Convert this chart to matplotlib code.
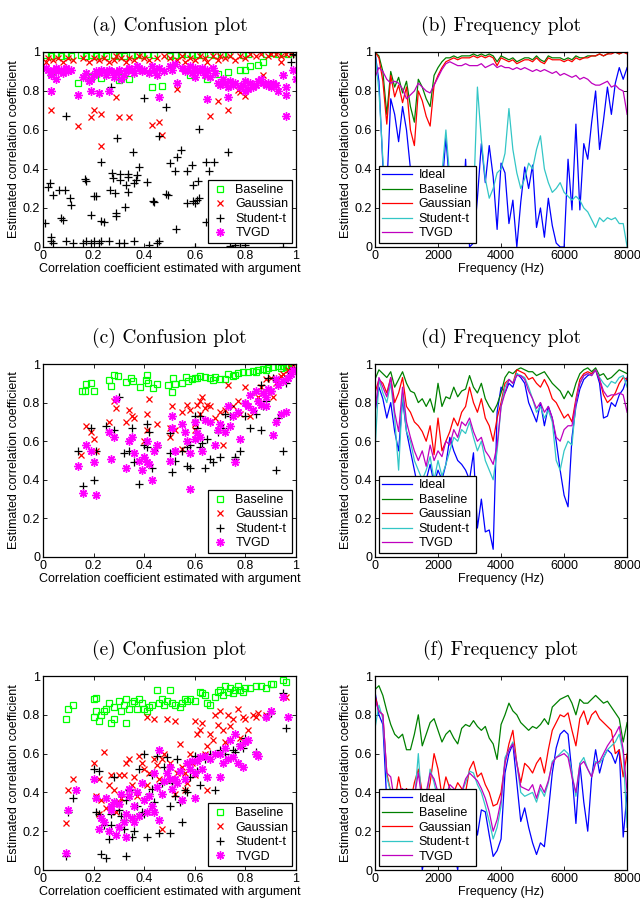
import matplotlib
matplotlib.use("Agg")
import matplotlib.pyplot as plt
import numpy as np

plt.rcParams['font.family'] = ['Liberation Sans', 'DejaVu Sans']

# Dados - confusion plots (argument estimate, estimated coefficient)
series_names = ["Baseline", "Gaussian", "Student-t", "TVGD"]
line_names = ["Ideal", "Baseline", "Gaussian", "Student-t", "TVGD"]

a_baseline = [(0.01,0.985),(0.03,0.98),(0.05,0.985),(0.07,0.98),(0.09,0.985),(0.11,0.98),(0.15,0.985),(0.17,0.98),
              (0.19,0.985),(0.21,0.98),(0.23,0.985),(0.25,0.98),(0.28,0.985),(0.30,0.98),(0.32,0.98),(0.35,0.985),
              (0.37,0.99),(0.39,0.985),(0.41,0.99),(0.44,0.985),(0.50,0.98),(0.52,0.985),(0.55,0.99),(0.57,0.99),
              (0.59,0.985),(0.61,0.99),(0.63,0.985),(0.66,0.99),(0.68,0.985),(0.71,0.99),(0.73,0.99),(0.79,0.985),
              (0.81,0.99),(0.88,0.99),(0.91,0.995),(0.93,0.99),(0.95,0.995),(0.97,0.99),(0.99,1.0),(0.03,0.89),
              (0.14,0.84),(0.19,0.87),(0.23,0.867),(0.30,0.858),(0.34,0.86),(0.43,0.82),(0.47,0.824),(0.65,0.86),
              (0.69,0.887),(0.73,0.897),(0.78,0.91),(0.80,0.91),(0.82,0.927),(0.85,0.935),(0.87,0.95),(0.31,0.87),
              (0.58,0.88)]
a_gaussian = [(0.01,0.95),(0.02,0.97),(0.04,0.96),(0.06,0.97),(0.08,0.95),(0.10,0.97),(0.12,0.96),(0.16,0.97),
              (0.18,0.95),(0.20,0.97),(0.22,0.96),(0.24,0.97),(0.26,0.95),(0.28,0.96),(0.29,0.98),(0.31,0.97),
              (0.33,0.95),(0.34,0.97),(0.36,0.96),(0.38,0.98),(0.40,0.97),(0.42,0.96),(0.45,0.97),(0.48,0.98),
              (0.50,0.97),(0.53,0.96),(0.55,0.98),(0.56,0.95),(0.58,0.97),(0.60,0.96),(0.62,0.98),(0.64,0.97),
              (0.65,0.95),(0.67,0.98),(0.69,0.96),(0.70,0.98),(0.72,0.97),(0.74,0.98),(0.76,0.96),(0.78,0.98),
              (0.80,0.97),(0.82,0.99),(0.84,0.98),(0.86,0.99),(0.89,0.98),(0.90,0.99),(0.92,0.99),(0.94,0.98),
              (0.96,0.99),(0.98,0.99),(0.03,0.70),(0.03,0.80),(0.14,0.62),(0.19,0.665),(0.20,0.70),(0.23,0.68),
              (0.23,0.516),(0.29,0.77),(0.30,0.665),(0.34,0.668),(0.43,0.627),(0.46,0.64),(0.47,0.573),(0.53,0.81),
              (0.66,0.67),(0.69,0.75),(0.73,0.705),(0.77,0.807),(0.80,0.773),(0.87,0.88),(0.94,0.947),(0.78,0.795)]
a_student = [(0.09,0.67),(0.27,0.82),(0.40,0.764),(0.486,0.716),(0.294,0.559),(0.354,0.487),(0.545,0.496),
             (0.528,0.46),(0.618,0.607),(0.733,0.487),(0.228,0.434),(0.166,0.349),(0.17,0.337),(0.273,0.38),
             (0.275,0.354),(0.304,0.374),(0.334,0.374),(0.334,0.357),(0.304,0.342),(0.38,0.409),(0.37,0.371),
             (0.41,0.332),(0.50,0.431),(0.522,0.388),(0.568,0.388),(0.59,0.422),(0.644,0.436),(0.676,0.436),
             (0.657,0.388),(0.592,0.32),(0.614,0.34),(0.028,0.328),(0.038,0.268),(0.02,0.31),(0.064,0.29),
             (0.087,0.29),(0.107,0.25),(0.11,0.213),(0.20,0.26),(0.21,0.26),(0.265,0.29),(0.285,0.277),
             (0.328,0.316),(0.334,0.282),(0.368,0.345),(0.36,0.328),(0.436,0.234),(0.44,0.229),(0.486,0.272),
             (0.495,0.268),(0.568,0.226),(0.594,0.234),(0.60,0.226),(0.618,0.251),(0.61,0.243),(0.324,0.203),
             (0.288,0.174),(0.19,0.166),(0.23,0.132),(0.24,0.126),(0.071,0.149),(0.08,0.14),(0.008,0.125),
             (0.29,0.157),(0.526,0.094),(0.644,0.128),(0.46,0.57),(0.03,0.05),(0.03,0.03),(0.04,0.02),
             (0.09,0.03),(0.12,0.02),(0.16,0.02),(0.17,0.03),(0.19,0.02),(0.20,0.03),(0.22,0.02),(0.23,0.03),
             (0.26,0.03),(0.30,0.02),(0.32,0.02),(0.36,0.03),(0.42,0.01),(0.45,0.02),(0.46,0.03),(0.60,0.0),
             (0.74,0.005),(0.76,0.01),(0.78,0.0),(0.80,0.01),(0.95,0.0),(0.98,0.95),(0.99,0.99),(1.0,0.985)]
a_tvgd = [(0.01,0.92),(0.02,0.91),(0.03,0.88),(0.04,0.90),(0.05,0.92),(0.06,0.90),(0.07,0.91),(0.08,0.89),
          (0.09,0.92),(0.10,0.90),(0.11,0.91),(0.03,0.80),(0.05,0.86),(0.14,0.78),(0.16,0.87),(0.17,0.89),
          (0.18,0.85),(0.19,0.86),(0.20,0.88),(0.21,0.90),(0.22,0.89),(0.23,0.91),(0.24,0.90),(0.25,0.88),
          (0.26,0.91),(0.27,0.90),(0.28,0.87),(0.29,0.89),(0.30,0.91),(0.31,0.86),(0.32,0.88),(0.33,0.90),
          (0.34,0.92),(0.35,0.91),(0.36,0.89),(0.37,0.93),(0.38,0.92),(0.39,0.90),(0.40,0.91),(0.42,0.89),
          (0.43,0.93),(0.44,0.91),(0.45,0.88),(0.46,0.92),(0.48,0.90),(0.50,0.93),(0.51,0.91),(0.52,0.94),
          (0.53,0.84),(0.55,0.92),(0.56,0.90),(0.57,0.91),(0.58,0.93),(0.59,0.89),(0.60,0.92),(0.61,0.91),
          (0.62,0.90),(0.63,0.92),(0.64,0.88),(0.65,0.91),(0.66,0.87),(0.67,0.92),(0.68,0.89),(0.69,0.84),
          (0.70,0.83),(0.71,0.86),(0.72,0.84),(0.73,0.82),(0.74,0.85),(0.75,0.83),(0.76,0.84),(0.78,0.82),
          (0.79,0.83),(0.80,0.85),(0.81,0.81),(0.82,0.84),(0.83,0.82),(0.84,0.83),(0.85,0.85),(0.86,0.86),
          (0.87,0.84),(0.88,0.83),(0.89,0.84),(0.90,0.82),(0.91,0.84),(0.92,0.83),(0.93,0.80),(0.95,0.88),
          (0.96,0.82),(0.99,0.91),(1.0,0.86),(0.19,0.80),(0.22,0.79),(0.46,0.77),(0.65,0.76),(0.73,0.77),
          (0.96,0.67),(0.96,0.78),(0.26,0.80),(0.60,0.87),(0.80,0.80)]

c_baseline = [(0.153,0.86),(0.165,0.86),(0.17,0.896),(0.19,0.90),(0.20,0.862),(0.26,0.917),(0.27,0.886),
              (0.28,0.943),(0.298,0.938),(0.33,0.908),(0.346,0.926),(0.357,0.914),(0.383,0.883),(0.41,0.945),
              (0.407,0.917),(0.416,0.90),(0.433,0.874),(0.45,0.896),(0.495,0.891),(0.508,0.857),(0.512,0.926),
              (0.521,0.896),(0.548,0.90),(0.564,0.931),(0.574,0.914),(0.59,0.92),(0.60,0.93),(0.62,0.94),
              (0.64,0.935),(0.66,0.93),(0.68,0.935),(0.70,0.92),(0.72,0.92),(0.73,0.95),(0.75,0.94),(0.77,0.955),
              (0.79,0.96),(0.81,0.96),(0.83,0.965),(0.85,0.97),(0.87,0.975),(0.89,0.98),(0.91,0.985),(0.93,0.99),
              (0.95,0.99),(0.97,0.995),(0.99,1.0),(0.98,0.99),(0.96,0.985),(0.94,0.98),(0.61,0.925),(0.67,0.915),
              (0.76,0.945),(0.84,0.96),(0.88,0.97)]
c_gaussian = [(0.15,0.53),(0.17,0.68),(0.19,0.65),(0.20,0.61),(0.21,0.55),(0.26,0.70),(0.28,0.81),(0.29,0.77),
              (0.33,0.70),(0.34,0.76),(0.35,0.73),(0.36,0.72),(0.40,0.60),(0.41,0.74),(0.42,0.82),(0.45,0.69),
              (0.41,0.66),(0.50,0.62),(0.51,0.78),(0.50,0.67),(0.52,0.66),(0.55,0.56),(0.57,0.79),(0.58,0.76),
              (0.60,0.66),(0.61,0.79),(0.62,0.81),(0.63,0.83),(0.64,0.77),(0.65,0.79),(0.66,0.78),(0.62,0.74),
              (0.68,0.72),(0.70,0.75),(0.72,0.76),(0.73,0.89),(0.75,0.78),(0.77,0.81),(0.78,0.74),(0.80,0.88),
              (0.82,0.73),(0.84,0.86),(0.86,0.88),(0.88,0.92),(0.90,0.93),(0.92,0.90),(0.94,0.94),(0.95,0.95),
              (0.97,0.97),(0.98,0.98),(0.99,0.99),(0.60,0.69),(0.55,0.75),(0.71,0.58),(0.91,0.83),(0.85,0.83)]
c_student = [(0.14,0.55),(0.16,0.37),(0.19,0.67),(0.20,0.40),(0.21,0.55),(0.25,0.68),(0.28,0.66),(0.30,0.83),
             (0.32,0.54),(0.34,0.55),(0.35,0.67),(0.36,0.49),(0.38,0.38),(0.40,0.58),(0.41,0.69),(0.42,0.65),
             (0.43,0.46),(0.41,0.57),(0.45,0.57),(0.50,0.54),(0.50,0.64),(0.51,0.44),(0.52,0.50),(0.55,0.55),
             (0.57,0.57),(0.58,0.46),(0.60,0.73),(0.62,0.73),(0.63,0.59),(0.64,0.46),(0.65,0.61),(0.67,0.49),
             (0.69,0.65),(0.70,0.52),(0.71,0.67),(0.72,0.74),(0.74,0.73),(0.76,0.52),(0.76,0.51),(0.78,0.55),
             (0.80,0.73),(0.82,0.67),(0.84,0.74),(0.86,0.66),(0.87,0.78),(0.88,0.81),(0.90,0.86),(0.92,0.45),
             (0.93,0.72),(0.95,0.55),(0.96,0.90),(0.97,0.94),(0.98,0.96),(0.99,0.98),(0.80,0.80),(0.86,0.89),
             (0.89,0.93),(0.91,0.93),(0.57,0.47),(0.61,0.67),(0.58,0.58),(0.66,0.51),(0.74,0.78),(0.62,0.57)]
c_tvgd = [(0.14,0.47),(0.16,0.33),(0.17,0.58),(0.19,0.55),(0.20,0.49),(0.21,0.32),(0.26,0.65),(0.27,0.51),
          (0.28,0.62),(0.29,0.82),(0.33,0.46),(0.34,0.60),(0.35,0.62),(0.36,0.54),(0.38,0.50),(0.39,0.45),
          (0.40,0.52),(0.41,0.49),(0.42,0.48),(0.43,0.40),(0.44,0.55),(0.41,0.60),(0.50,0.50),(0.51,0.67),
          (0.51,0.73),(0.52,0.55),(0.55,0.69),(0.56,0.65),(0.57,0.60),(0.58,0.35),(0.60,0.70),(0.61,0.64),
          (0.62,0.62),(0.63,0.55),(0.64,0.71),(0.66,0.70),(0.68,0.58),(0.69,0.66),(0.70,0.69),(0.72,0.65),
          (0.73,0.78),(0.74,0.68),(0.75,0.73),(0.76,0.49),(0.77,0.75),(0.78,0.61),(0.80,0.80),(0.81,0.78),
          (0.83,0.76),(0.85,0.81),(0.86,0.79),(0.87,0.85),(0.88,0.83),(0.89,0.87),(0.90,0.86),(0.91,0.63),
          (0.92,0.70),(0.93,0.89),(0.94,0.74),(0.95,0.91),(0.96,0.75),(0.97,0.93),(0.98,0.95),(0.99,0.97),
          (0.88,0.78),(0.92,0.92),(0.82,0.84),(0.84,0.86),(0.60,0.61),(0.52,0.55),(0.58,0.54),(0.45,0.58)]

e_baseline = [(0.09,0.78),(0.10,0.83),(0.12,0.85),(0.20,0.88),(0.21,0.885),(0.20,0.79),(0.21,0.82),(0.22,0.77),
              (0.23,0.80),(0.24,0.82),(0.25,0.83),(0.26,0.86),(0.27,0.76),(0.28,0.84),(0.30,0.87),(0.31,0.82),
              (0.32,0.85),(0.33,0.88),(0.34,0.83),(0.35,0.86),(0.36,0.87),(0.37,0.83),(0.38,0.88),(0.39,0.86),
              (0.40,0.83),(0.42,0.84),(0.43,0.85),(0.45,0.93),(0.46,0.86),(0.47,0.88),(0.49,0.87),(0.50,0.93),
              (0.51,0.86),(0.52,0.85),(0.54,0.84),(0.55,0.86),(0.56,0.88),(0.58,0.88),(0.60,0.87),(0.62,0.92),
              (0.63,0.91),(0.64,0.90),(0.65,0.86),(0.66,0.85),(0.68,0.89),(0.69,0.92),(0.70,0.93),(0.71,0.90),
              (0.72,0.95),(0.73,0.92),(0.74,0.94),(0.75,0.91),(0.76,0.93),(0.77,0.95),(0.78,0.93),(0.79,0.92),
              (0.80,0.94),(0.82,0.94),(0.84,0.95),(0.86,0.95),(0.88,0.94),(0.90,0.96),(0.91,0.96),(0.95,0.98),
              (0.96,0.97),(0.28,0.78),(0.33,0.76),(0.41,0.82),(0.48,0.85),(0.57,0.87)]
e_gaussian = [(0.09,0.24),(0.10,0.41),(0.12,0.47),(0.20,0.55),(0.21,0.38),(0.22,0.47),(0.23,0.36),(0.24,0.61),
              (0.22,0.29),(0.25,0.32),(0.26,0.44),(0.27,0.49),(0.28,0.41),(0.29,0.30),(0.30,0.49),(0.31,0.37),
              (0.32,0.49),(0.33,0.55),(0.34,0.57),(0.35,0.44),(0.36,0.48),(0.37,0.38),(0.38,0.59),(0.39,0.55),
              (0.40,0.52),(0.41,0.44),(0.42,0.50),(0.43,0.33),(0.44,0.57),(0.45,0.54),(0.46,0.47),(0.47,0.57),
              (0.48,0.60),(0.49,0.78),(0.50,0.55),(0.51,0.47),(0.52,0.77),(0.53,0.50),(0.54,0.65),(0.55,0.53),
              (0.56,0.50),(0.57,0.45),(0.58,0.60),(0.59,0.55),(0.60,0.77),(0.61,0.70),(0.62,0.72),(0.63,0.76),
              (0.64,0.60),(0.65,0.64),(0.66,0.70),(0.67,0.67),(0.68,0.80),(0.69,0.75),(0.70,0.82),(0.71,0.72),
              (0.72,0.66),(0.73,0.80),(0.74,0.74),(0.75,0.78),(0.76,0.70),(0.77,0.83),(0.78,0.68),(0.79,0.79),
              (0.80,0.78),(0.81,0.72),(0.83,0.80),(0.84,0.79),(0.85,0.81),(0.88,0.80),(0.90,0.82),(0.95,0.89),
              (0.96,0.89),(0.44,0.78),(0.41,0.79),(0.30,0.35),(0.35,0.27),(0.47,0.21),(0.56,0.41),(0.60,0.49),
              (0.65,0.41),(0.52,0.39)]
e_student = [(0.09,0.07),(0.10,0.30),(0.12,0.37),(0.20,0.52),(0.21,0.30),(0.22,0.51),(0.23,0.08),(0.25,0.06),
             (0.22,0.29),(0.24,0.23),(0.26,0.16),(0.27,0.29),(0.28,0.48),(0.29,0.35),(0.30,0.22),(0.31,0.28),
             (0.32,0.21),(0.33,0.07),(0.34,0.41),(0.35,0.17),(0.36,0.20),(0.37,0.33),(0.38,0.52),(0.39,0.30),
             (0.40,0.60),(0.41,0.17),(0.42,0.39),(0.43,0.42),(0.44,0.35),(0.45,0.59),(0.46,0.19),(0.47,0.45),
             (0.48,0.53),(0.49,0.58),(0.50,0.19),(0.51,0.45),(0.52,0.38),(0.54,0.35),(0.55,0.25),(0.56,0.41),
             (0.57,0.40),(0.58,0.48),(0.60,0.59),(0.61,0.51),(0.62,0.44),(0.64,0.57),(0.66,0.60),(0.68,0.41),
             (0.70,0.62),(0.72,0.60),(0.75,0.62),(0.76,0.61),(0.78,0.65),(0.79,0.63),(0.80,0.68),(0.84,0.61),
             (0.88,0.79),(0.90,0.81),(0.96,0.73),(0.95,0.91),(0.30,0.31),(0.33,0.36),(0.36,0.27),(0.43,0.49),
             (0.50,0.33),(0.53,0.57),(0.40,0.29),(0.27,0.23),(0.32,0.26)]
e_tvgd = [(0.09,0.09),(0.10,0.31),(0.13,0.41),(0.20,0.47),(0.21,0.37),(0.22,0.21),(0.23,0.27),(0.24,0.25),
          (0.25,0.37),(0.26,0.20),(0.27,0.31),(0.28,0.35),(0.29,0.18),(0.30,0.34),(0.31,0.39),(0.32,0.25),
          (0.33,0.29),(0.34,0.42),(0.35,0.27),(0.36,0.33),(0.37,0.40),(0.38,0.28),(0.39,0.45),(0.40,0.36),
          (0.41,0.30),(0.42,0.38),(0.43,0.33),(0.44,0.50),(0.45,0.43),(0.46,0.62),(0.47,0.39),(0.48,0.46),
          (0.49,0.50),(0.50,0.53),(0.51,0.42),(0.52,0.47),(0.53,0.45),(0.54,0.51),(0.55,0.36),(0.56,0.47),
          (0.57,0.55),(0.58,0.52),(0.59,0.56),(0.60,0.50),(0.61,0.56),(0.62,0.58),(0.63,0.52),(0.64,0.59),
          (0.66,0.57),(0.68,0.60),(0.70,0.60),(0.71,0.55),(0.72,0.63),(0.73,0.57),(0.74,0.67),(0.75,0.58),
          (0.76,0.70),(0.77,0.55),(0.78,0.64),(0.79,0.53),(0.80,0.66),(0.81,0.67),(0.84,0.60),(0.85,0.59),
          (0.88,0.79),(0.90,0.82),(0.95,0.89),(0.97,0.79),(0.33,0.17),(0.30,0.22),(0.36,0.25),(0.46,0.26),
          (0.60,0.37),(0.70,0.48),(0.65,0.48),(0.50,0.47),(0.44,0.30),(0.34,0.38),(0.27,0.33)]

# Frequency plots: one value every 125 Hz from 0 to 8000 Hz
freq_hz = np.arange(0, 8001, 125)

b_ideal = [1.0,0.85,0.42,0.30,0.76,0.68,0.54,0.72,0.60,0.40,0.25,0.15,0.30,0.10,0.20,0.05,0.15,0.30,0.56,0.30,
           0.10,0.25,0.05,0.45,0.00,0.02,0.25,0.53,0.33,0.52,0.36,0.09,0.43,0.38,0.12,0.24,0.00,0.23,0.41,0.30,
           0.42,0.10,0.20,0.05,0.25,0.11,0.02,0.00,0.00,0.45,0.19,0.63,0.19,0.53,0.45,0.64,0.80,0.50,0.65,0.82,
           0.68,0.84,0.92,0.86,0.92]
b_baseline = [1.0,0.98,0.90,0.68,0.90,0.82,0.87,0.79,0.85,0.72,0.64,0.86,0.82,0.76,0.72,0.88,0.92,0.95,0.97,0.97,
              0.98,0.97,0.98,0.98,0.98,0.99,0.98,0.99,0.98,0.99,0.98,0.95,0.98,0.97,0.96,0.97,0.95,0.96,0.97,0.97,
              0.96,0.98,0.96,0.95,0.98,0.97,0.97,0.97,0.96,0.97,0.96,0.98,0.97,0.97,0.98,0.98,0.98,0.99,0.98,0.99,
              1.0,1.0,0.99,1.0,1.0]
b_gaussian = [1.0,0.97,0.85,0.63,0.88,0.77,0.83,0.74,0.82,0.60,0.52,0.80,0.75,0.67,0.62,0.83,0.88,0.92,0.95,0.96,
              0.97,0.96,0.97,0.97,0.97,0.98,0.97,0.98,0.97,0.98,0.97,0.93,0.97,0.96,0.95,0.96,0.94,0.95,0.96,0.96,
              0.95,0.97,0.95,0.94,0.97,0.96,0.96,0.96,0.95,0.96,0.95,0.97,0.96,0.97,0.97,0.98,0.98,0.99,0.98,0.99,
              0.99,1.0,0.99,1.0,0.99]
b_student = [1.0,0.80,0.45,0.10,0.02,0.05,0.02,0.08,0.05,0.12,0.08,0.15,0.10,0.20,0.15,0.25,0.30,0.38,0.60,0.35,
             0.30,0.25,0.30,0.24,0.25,0.23,0.82,0.55,0.35,0.25,0.30,0.38,0.40,0.48,0.71,0.50,0.38,0.30,0.35,0.43,
             0.40,0.50,0.57,0.40,0.33,0.28,0.30,0.33,0.28,0.26,0.24,0.26,0.24,0.20,0.18,0.14,0.10,0.15,0.13,0.15,
             0.14,0.15,0.12,0.12,0.0]
b_tvgd = [0.87,0.92,0.90,0.86,0.84,0.85,0.84,0.81,0.76,0.78,0.80,0.84,0.82,0.80,0.79,0.83,0.87,0.91,0.94,0.95,
          0.94,0.93,0.93,0.94,0.93,0.93,0.93,0.94,0.92,0.93,0.94,0.92,0.93,0.92,0.92,0.91,0.92,0.91,0.92,0.91,
          0.90,0.91,0.90,0.91,0.90,0.89,0.90,0.88,0.89,0.88,0.87,0.88,0.86,0.87,0.86,0.84,0.83,0.83,0.84,0.85,
          0.82,0.83,0.81,0.80,0.68]

d_ideal = [0.75,0.88,0.82,0.72,0.80,0.65,0.55,0.82,0.65,0.55,0.45,0.35,0.40,0.40,0.48,0.38,0.45,0.40,0.48,0.62,
           0.55,0.50,0.48,0.45,0.40,0.54,0.15,0.30,0.13,0.14,0.04,0.75,0.88,0.85,0.90,0.88,0.95,0.93,0.90,0.80,
           0.75,0.70,0.80,0.68,0.78,0.72,0.60,0.45,0.32,0.26,0.62,0.78,0.87,0.92,0.94,0.95,0.97,0.90,0.72,0.73,
           0.80,0.78,0.84,0.87,0.93]
d_baseline = [0.92,0.97,0.95,0.93,0.96,0.88,0.92,0.96,0.90,0.86,0.85,0.80,0.82,0.78,0.82,0.75,0.90,0.78,0.83,0.82,
              0.88,0.83,0.86,0.87,0.94,0.88,0.85,0.90,0.82,0.78,0.75,0.79,0.85,0.93,0.96,0.95,0.97,0.98,0.97,0.96,
              0.96,0.94,0.95,0.96,0.93,0.90,0.88,0.86,0.82,0.86,0.83,0.90,0.95,0.97,0.98,0.96,0.98,0.94,0.95,0.92,
              0.93,0.95,0.97,0.96,0.95]
d_gaussian = [0.85,0.92,0.90,0.85,0.93,0.80,0.85,0.93,0.78,0.75,0.70,0.68,0.65,0.60,0.68,0.53,0.72,0.55,0.60,0.65,
              0.72,0.68,0.75,0.78,0.88,0.80,0.75,0.82,0.72,0.68,0.60,0.72,0.80,0.90,0.92,0.90,0.97,0.96,0.95,0.92,
              0.93,0.90,0.88,0.92,0.88,0.82,0.80,0.76,0.72,0.74,0.70,0.82,0.92,0.95,0.96,0.95,0.97,0.92,0.84,0.80,
              0.82,0.85,0.90,0.93,0.92]
d_student = [0.55,0.92,0.85,0.80,0.90,0.72,0.45,0.85,0.65,0.60,0.50,0.45,0.40,0.45,0.52,0.40,0.50,0.42,0.48,0.55,
             0.62,0.60,0.66,0.64,0.70,0.62,0.55,0.60,0.50,0.45,0.40,0.55,0.78,0.88,0.92,0.90,0.95,0.94,0.93,0.88,
             0.82,0.75,0.78,0.72,0.76,0.70,0.50,0.45,0.55,0.60,0.58,0.80,0.90,0.94,0.95,0.94,0.97,0.93,0.90,0.88,
             0.91,0.90,0.93,0.94,0.88]
d_tvgd = [0.75,0.93,0.88,0.83,0.93,0.75,0.65,0.88,0.70,0.62,0.55,0.50,0.55,0.47,0.58,0.50,0.55,0.52,0.60,0.58,
          0.66,0.62,0.70,0.68,0.72,0.65,0.60,0.62,0.55,0.52,0.48,0.58,0.78,0.85,0.92,0.90,0.94,0.94,0.92,0.86,
          0.82,0.77,0.80,0.75,0.78,0.72,0.62,0.60,0.66,0.68,0.68,0.80,0.90,0.94,0.95,0.94,0.97,0.92,0.86,0.83,
          0.84,0.84,0.85,0.84,0.75]

f_ideal = [0.92,0.80,0.75,0.35,0.25,0.20,0.25,0.15,0.20,0.10,0.15,0.25,0.00,0.10,0.20,0.15,0.10,0.05,0.15,0.20,
           0.10,0.00,0.25,0.09,0.40,0.30,0.18,0.31,0.30,0.18,0.07,0.10,0.16,0.50,0.60,0.65,0.45,0.25,0.32,0.22,
           0.14,0.08,0.14,0.12,0.30,0.50,0.63,0.70,0.72,0.70,0.50,0.24,0.55,0.35,0.20,0.48,0.62,0.50,0.58,0.62,
           0.60,0.55,0.62,0.17,0.40]
f_baseline = [0.93,0.95,0.90,0.82,0.75,0.70,0.68,0.70,0.62,0.62,0.70,0.80,0.64,0.70,0.76,0.78,0.72,0.66,0.70,0.72,
              0.68,0.65,0.73,0.75,0.74,0.77,0.74,0.72,0.74,0.68,0.65,0.57,0.75,0.80,0.86,0.82,0.80,0.76,0.74,0.72,
              0.74,0.73,0.75,0.78,0.75,0.84,0.86,0.88,0.89,0.90,0.86,0.80,0.88,0.86,0.86,0.88,0.90,0.88,0.86,0.87,
              0.84,0.81,0.78,0.66,0.76]
f_gaussian = [0.90,0.82,0.80,0.50,0.40,0.35,0.48,0.38,0.42,0.35,0.45,0.52,0.40,0.35,0.45,0.60,0.52,0.38,0.48,0.42,
              0.40,0.45,0.42,0.40,0.52,0.56,0.48,0.50,0.44,0.40,0.33,0.34,0.40,0.55,0.65,0.72,0.55,0.45,0.55,0.53,
              0.50,0.55,0.58,0.50,0.62,0.72,0.76,0.80,0.79,0.81,0.72,0.64,0.78,0.82,0.75,0.80,0.82,0.78,0.76,0.74,
              0.72,0.60,0.62,0.48,0.60]
f_student = [0.73,0.85,0.78,0.48,0.40,0.30,0.35,0.40,0.35,0.30,0.35,0.60,0.30,0.35,0.52,0.45,0.36,0.30,0.35,0.42,
             0.40,0.36,0.40,0.45,0.51,0.50,0.44,0.40,0.33,0.25,0.16,0.22,0.33,0.58,0.62,0.66,0.55,0.40,0.38,0.39,
             0.40,0.35,0.42,0.38,0.45,0.56,0.58,0.60,0.62,0.60,0.50,0.38,0.55,0.58,0.52,0.48,0.56,0.55,0.58,0.62,
             0.64,0.66,0.70,0.60,0.22]
f_tvgd = [0.88,0.82,0.80,0.50,0.48,0.35,0.40,0.42,0.36,0.32,0.38,0.50,0.35,0.40,0.50,0.47,0.40,0.32,0.38,0.44,
          0.42,0.38,0.40,0.47,0.50,0.48,0.46,0.42,0.37,0.30,0.20,0.26,0.36,0.56,0.62,0.65,0.55,0.43,0.42,0.41,
          0.44,0.37,0.44,0.40,0.46,0.55,0.58,0.59,0.60,0.58,0.48,0.40,0.54,0.56,0.52,0.48,0.55,0.56,0.60,0.64,
          0.67,0.70,0.74,0.62,0.40]

confusion_data = [[a_baseline, a_gaussian, a_student, a_tvgd],
                  [c_baseline, c_gaussian, c_student, c_tvgd],
                  [e_baseline, e_gaussian, e_student, e_tvgd]]
freq_data = [[b_ideal, b_baseline, b_gaussian, b_student, b_tvgd],
             [d_ideal, d_baseline, d_gaussian, d_student, d_tvgd],
             [f_ideal, f_baseline, f_gaussian, f_student, f_tvgd]]
conf_titles = ["(a) Confusion plot", "(c) Confusion plot", "(e) Confusion plot"]
freq_titles = ["(b) Frequency plot", "(d) Frequency plot", "(f) Frequency plot"]

# estilos (MATLAB)
marker_styles = [dict(marker='s', color='#00ff00', mfc='none', ms=4.5, mew=0.9),
                 dict(marker='x', color='#ff0000', ms=4.5, mew=0.9),
                 dict(marker='+', color='k', ms=6, mew=0.9),
                 dict(marker=(8, 2, 0), color='#ff00ff', ms=6, mew=1.0)]
line_colors = ['#0000ff', '#008000', '#ff0000', '#33c6c6', '#bf00bf']

fig = plt.figure(figsize=(6.4, 9.01), dpi=100)
bottoms = [0.7259, 0.3818, 0.0344]
heights = [0.2164, 0.2142, 0.2153]


def style_axes(ax, title):
    ax.set_title(title, fontfamily='cmr10', fontsize=14, pad=15)
    ax.tick_params(direction='in', top=True, right=True, labelsize=9, pad=2, length=3, width=0.6)
    for s in ax.spines.values():
        s.set_linewidth(0.9)
    ax.set_ylabel('Estimated correlation coefficient', fontsize=9, labelpad=2)


for r in range(3):
    # confusion plot
    ax = fig.add_axes([0.0672, bottoms[r], 0.3953, heights[r]])
    for pts, name, st in zip(confusion_data[r], series_names, marker_styles):
        xy = np.array(pts)
        ax.plot(xy[:, 0], xy[:, 1], linestyle='none', label=name, **st)
    ax.set_xlim(0, 1)
    ax.set_ylim(0, 1)
    ax.set_xticks([0, 0.2, 0.4, 0.6, 0.8, 1])
    ax.set_xticklabels(['0', '0.2', '0.4', '0.6', '0.8', '1'])
    ax.set_yticks([0, 0.2, 0.4, 0.6, 0.8, 1])
    ax.set_yticklabels(['0', '0.2', '0.4', '0.6', '0.8', '1'])
    ax.set_xlabel('Correlation coefficient estimated with argument', fontsize=9, labelpad=1)
    style_axes(ax, conf_titles[r])
    leg = ax.legend(loc='lower right', fontsize=9, numpoints=1, fancybox=False, edgecolor='k', framealpha=1,
                    borderaxespad=0.3, handlelength=1.3, handletextpad=0.6, labelspacing=0.2, borderpad=0.3)
    leg.get_frame().set_linewidth(0.9)

    # frequency plot
    ax = fig.add_axes([0.5859, bottoms[r], 0.394, heights[r]])
    for vals, name, c in zip(freq_data[r], line_names, line_colors):
        ax.plot(freq_hz, vals, color=c, lw=0.9, label=name)
    ax.set_xlim(0, 8000)
    ax.set_ylim(0, 1)
    ax.set_xticks([0, 2000, 4000, 6000, 8000])
    ax.set_yticks([0, 0.2, 0.4, 0.6, 0.8, 1])
    ax.set_yticklabels(['0', '0.2', '0.4', '0.6', '0.8', '1'])
    ax.set_xlabel('Frequency (Hz)', fontsize=9, labelpad=1)
    style_axes(ax, freq_titles[r])
    leg = ax.legend(loc='lower left', fontsize=9, fancybox=False, edgecolor='k', framealpha=1,
                    borderaxespad=0.3, handlelength=2.4, handletextpad=0.5, labelspacing=0.2, borderpad=0.3)
    leg.get_frame().set_linewidth(0.9)

plt.savefig('out.png', dpi=100)
